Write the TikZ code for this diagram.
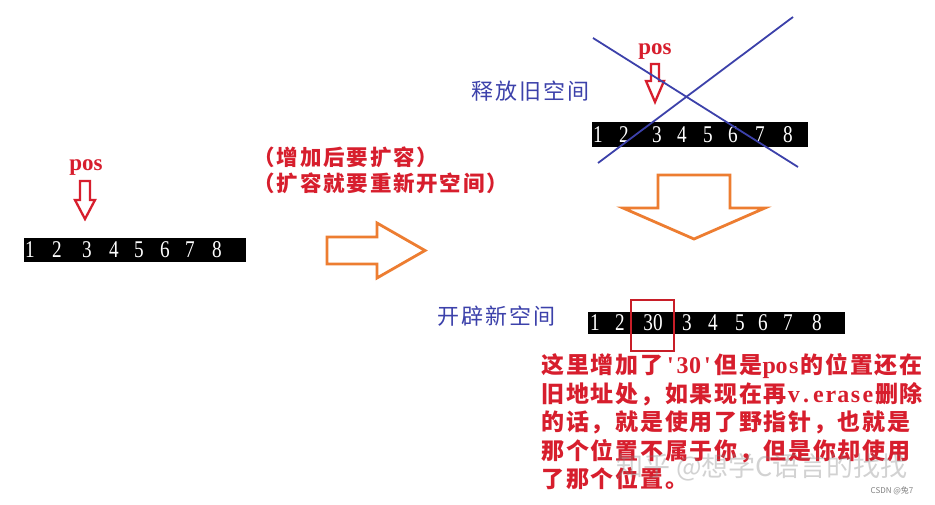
\documentclass[tikz,border=0pt]{standalone}
\usepackage{fontspec}
\newfontfamily\cjk{Noto Sans CJK SC}
\newfontfamily\lat{Liberation Serif}
\newfontfamily\dig[FakeStretch=0.8]{Liberation Serif}
\definecolor{myred}{RGB}{215,30,45}
\definecolor{boxred}{RGB}{200,30,40}
\definecolor{myblue}{RGB}{60,65,170}
\definecolor{myorange}{RGB}{237,125,49}
\newlength\fcw \newlength\hcw \newlength\cw
\def\cellloop#1{\ifx#1\relax\else\makebox[\cw][c]{#1}\expandafter\cellloop\fi}
\newcommand\fw[1]{\begingroup\cw=\fcw\cellloop#1\relax\endgroup}
\newcommand\hw[1]{\begingroup\cw=\hcw\lat\bfseries\fontsize{24}{24}\selectfont\cellloop#1\relax\endgroup}
\tikzset{
  bar/.style={fill=black},
  digit/.style={text=white,inner sep=0pt,font=\dig\fontsize{24}{24}\selectfont},
  posl/.style={text=myred,inner sep=0pt,anchor=base,font=\lat\bfseries\fontsize{23}{23}\selectfont},
  hollowred/.style={draw=myred,line width=2.3pt,fill=white,line join=miter},
  hollowor/.style={draw=myorange,line width=2.8pt,fill=white,line join=miter},
  redtxt/.style={text=myred,inner sep=0pt,anchor=base west},
  bluetxt/.style={text=myblue,inner sep=0pt,anchor=base west},
}
\begin{document}
\begin{tikzpicture}[x=1pt,y=-1pt]
\useasboundingbox (0,0) rectangle (935,505);
\fill[white] (0,0) rectangle (935,505);

% ---------- left array ----------
\node[posl] (posA) at (86,171) {pos};
\draw[hollowred] (80,181) -- (90,181) -- (90,200) -- (95,200) -- (85,219) -- (75,200) -- (80,200) -- cycle;
\fill[bar] (24,238) rectangle (246,262);
\foreach \x/\d [count=\i] in {30/1,57/2,87/3,114/4,139/5,165/6,190/7,217/8}
  \node[digit] (a\i) at (\x,250) {\d};

% ---------- note in parentheses ----------
\setlength\fcw{23.3pt}
\node[redtxt,font=\cjk\bfseries\fontsize{21.5}{21.5}\selectfont] (noteA) at (252.5,166) {\fw{（增加后要扩容）}};
\node[redtxt,font=\cjk\bfseries\fontsize{21.5}{21.5}\selectfont] (noteB) at (252.5,191.5) {\fw{（扩容就要重新开空间）}};

% ---------- orange right arrow ----------
\draw[hollowor] (327,237) -- (377,237) -- (377,223) -- (425,250.5) -- (377,278) -- (377,264) -- (327,264) -- cycle;

% ---------- old space (released) ----------
\setlength\fcw{24pt}
\node[bluetxt,font=\cjk\fontsize{22}{22}\selectfont] (oldlbl) at (470,100) {\fw{释放旧空间}};
\node[posl] (posB) at (655,55) {pos};
\draw[hollowred] (651,64) -- (659,64) -- (659,81) -- (664,81) -- (655,102) -- (646,81) -- (651,81) -- cycle;
\fill[bar] (592,122) rectangle (808,147);
\foreach \x/\d [count=\i] in {598/1,624/2,657/3,682/4,708/5,733/6,760/7,788/8}
  \node[digit] (b\i) at (\x,134.5) {\d};
\coordinate (x1s) at (593,38); \coordinate (x1e) at (798,167);
\coordinate (x2s) at (598,163); \coordinate (x2e) at (793,17);
\draw[myblue,line width=1.8pt] (x1s) -- (x1e);
\draw[myblue,line width=1.8pt] (x2s) -- (x2e);

% ---------- orange down arrow ----------
\draw[hollowor] (658,175) -- (730,175) -- (730,208) -- (765,208) -- (694,239) -- (623,208) -- (658,208) -- cycle;

% ---------- new space ----------
\node[bluetxt,font=\cjk\fontsize{22}{22}\selectfont] (newlbl) at (436,324) {\fw{开辟新空间}};
\fill[bar] (588,312) rectangle (845,334);
\foreach \x/\d [count=\i] in {595/1,620/2,653/30,687/3,713/4,740/5,763/6,788/7,817/8}
  \node[digit] (c\i) at (\x,323) {\d};
\node[draw=boxred,line width=2.3pt,minimum width=43pt,minimum height=51pt,inner sep=0pt] (box30) at (652.5,325.5) {};

% ---------- explanation ----------
\setlength\fcw{24.7pt}\setlength\hcw{12.35pt}
\begin{scope}[every node/.append style={redtxt,font=\cjk\bfseries\fontsize{23}{23}\selectfont}]
\node (l1) at (540.5,373.5) {\fw{这里增加了}\hw{'30'}\fw{但是}\hw{pos}\fw{的位置还在}};
\node (l2) at (540.5,402) {\fw{旧地址处，如果现在再}\hw{v.erase}\fw{删除}};
\node (l3) at (540.5,430.5) {\fw{的话，就是使用了野指针，也就是}};
\node (l4) at (540.5,459) {\fw{那个位置不属于你，但是你却使用}};
\node (l5) at (540.5,487.5) {\fw{了那个位置。}};
\end{scope}

% ---------- watermarks ----------
\node[text=gray,opacity=0.35,inner sep=0pt,font=\cjk\fontsize{27}{27}\selectfont] (wm) at (762,467) {知乎 @想学C语言的找找};
\node[text=gray,inner sep=0pt,font=\cjk\fontsize{8}{8}\selectfont] (csdn) at (892,490.5) {CSDN @兔7};
\end{tikzpicture}
\end{document}
